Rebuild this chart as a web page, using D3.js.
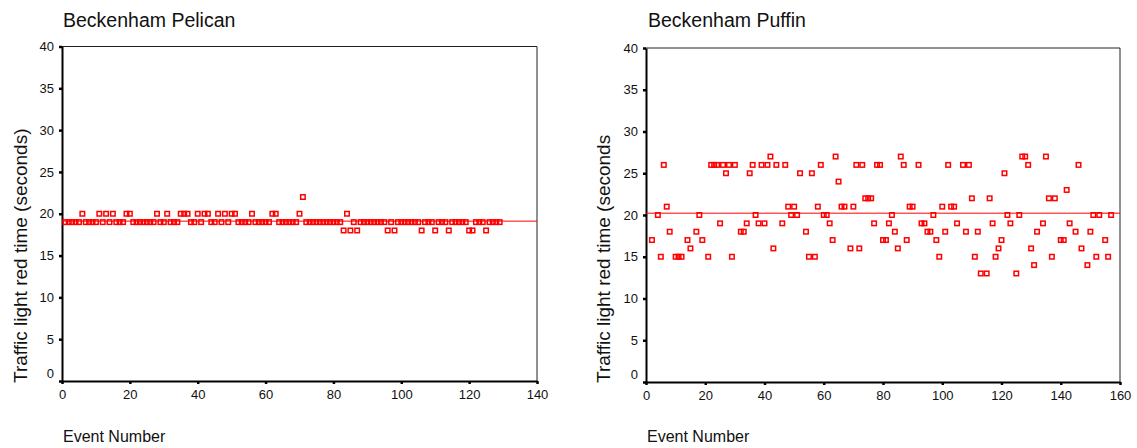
<!DOCTYPE html>
<html>
<head>
<meta charset="utf-8">
<script src="https://cdn.jsdelivr.net/npm/d3@7"></script>
<style>
  html, body { margin: 0; padding: 0; background: #fff; }
  svg { display: block; font-family: "Liberation Sans", Arial, sans-serif; }
  .tick text { fill: #111; font-size: 13px; }
</style>
</head>
<body>
<svg id="chart" width="1137" height="448"></svg>
<script>
// Red-light duration per event at two Beckenham crossings

// Pelican crossing: events numbered 1..n in order
const pelicanTimes = [
  19,19,19,19,19,20,19,19,19,19,
  20,19,20,19,20,19,19,19,20,20,
  19,19,19,19,19,19,19,20,19,19,
  20,19,19,19,20,20,20,19,19,20,
  19,20,20,19,19,20,19,20,19,20,
  20,19,19,19,19,20,19,19,19,19,
  19,20,20,19,19,19,19,19,19,20,
  22,19,19,19,19,19,19,19,19,19,
  19,19,18,20,18,19,18,19,19,19,
  19,19,19,19,19,18,19,18,19,19,
  19,19,19,19,19,18,19,19,19,18,
  19,19,19,18,19,19,19,19,19,18,
  18,19,19,19,18,19,19,19,19
];

// Puffin crossing: recorded event numbers and their red times
const puffinEvents = [
  2,4,5,6,7,8,10,11,12,14,15,17,18,19,21,22,23,24,25,26,27,28,29,30,32,33,34,35,36,37,
  38,39,40,41,42,43,44,46,47,48,49,50,51,52,
  54,55,56,57,58,59,60,61,62,63,64,65,66,67,69,70,71,72,73,74,75,76,77,78,79,80,81,82,
  83,84,85,86,87,88,89,90,92,93,94,95,96,97,98,99,100,101,102,103,104,105,
  107,108,109,110,111,112,113,115,116,117,118,119,120,121,122,123,125,126,127,128,129,
  130,131,132,134,135,136,137,138,140,141,142,143,145,146,147,149,150,151,152,153,155,156,157
];
const puffinTimes = [
  17,20,15,26,21,18,15,15,15,17,16,18,20,17,15,26,26,26,19,26,25,26,15,26,18,18,19,25,26,20,
  19,26,19,26,27,16,26,19,26,21,20,21,20,25,
  18,15,25,15,21,26,20,20,19,17,27,24,21,21,16,21,26,16,26,22,22,22,19,26,26,17,17,19,
  20,18,16,27,26,17,21,21,26,19,19,18,18,20,17,15,21,18,26,21,21,19,
  26,18,26,22,15,18,13,13,22,19,15,16,17,25,20,19,13,20,27,27,26,
  16,14,18,19,27,22,15,22,17,17,23,19,18,26,16,14,18,20,15,20,17,15,20
];

const yTicks = [0, 5, 10, 15, 20, 25, 30, 35, 40];
const pelicanXTicks = [0, 20, 40, 60, 80, 100, 120, 140];
const puffinXTicks = [0, 20, 40, 60, 80, 100, 120, 140, 160];

const panels = [
  {
    title: "Beckenham Pelican",
    yTitle: "Traffic light red time (seconds)",
    xTitle: "Event Number",
    events: pelicanTimes.map((_, i) => i + 1),
    times: pelicanTimes,
    xTicks: pelicanXTicks,
    box: { left: 62, right: 537, top: 46.5, bottom: 381 },
    titleX: 63, yTitleX: 27, xTitleX: 63
  },
  {
    title: "Beckenham Puffin",
    yTitle: "Traffic light red time (seconds",
    xTitle: "Event Number",
    events: puffinEvents,
    times: puffinTimes,
    xTicks: puffinXTicks,
    box: { left: 646, right: 1120, top: 48, bottom: 382 },
    titleX: 648, yTitleX: 610, xTitleX: 647
  }
];

const svg = d3.select("#chart");
const RED = "#ff0000";

panels.forEach(p => {
  const b = p.box;
  const x = d3.scaleLinear()
    .domain([0, d3.max(p.xTicks)])
    .range([b.left, b.right]);
  const y = d3.scaleLinear()
    .domain([0, d3.max(yTicks)])
    .range([b.bottom, b.top]);

  const g = svg.append("g");

  // frame: thin top and right edges
  g.append("path")
    .attr("d", `M${b.left},${b.top}H${b.right}V${b.bottom}`)
    .attr("fill", "none")
    .attr("stroke", "#222")
    .attr("stroke-width", 1);

  // axes
  const xAxis = g.append("g")
    .attr("transform", `translate(0,${b.bottom})`)
    .call(d3.axisBottom(x).tickValues(p.xTicks).tickSize(3).tickSizeOuter(0).tickPadding(6));
  const yAxis = g.append("g")
    .attr("transform", `translate(${b.left},0)`)
    .call(d3.axisLeft(y).tickValues(yTicks).tickSize(3).tickSizeOuter(0).tickPadding(5));

  [xAxis, yAxis].forEach(a => {
    a.select(".domain").attr("stroke", "#000").attr("stroke-width", 2);
    a.selectAll(".tick line").attr("stroke", "#000").attr("stroke-width", 2.5);
    a.selectAll(".tick text").attr("font-family", "Liberation Sans, Arial, sans-serif");
  });
  // lift the zero label off the x axis
  yAxis.selectAll(".tick").filter(d => d === 0).select("text").attr("dy", "-0.28em");

  // mean reference line
  const meanTime = d3.mean(p.times);
  g.append("line")
    .attr("x1", b.left).attr("x2", b.right)
    .attr("y1", y(meanTime)).attr("y2", y(meanTime))
    .attr("stroke", RED)
    .attr("stroke-width", 1);

  // event markers: hollow squares
  const pts = p.events.map((e, i) => ({ e, t: p.times[i] }));
  const s = 4.5;
  g.append("g").selectAll("rect")
    .data(pts)
    .join("rect")
    .attr("x", d => x(d.e) - s / 2)
    .attr("y", d => y(d.t) - s / 2)
    .attr("width", s)
    .attr("height", s)
    .attr("fill", "none")
    .attr("stroke", RED)
    .attr("stroke-width", 1.5);

  // titles
  g.append("text")
    .attr("x", p.titleX).attr("y", 27)
    .attr("font-size", 19.5)
    .attr("fill", "#111")
    .text(p.title);

  g.append("text")
    .attr("transform", `translate(${p.yTitleX},383) rotate(-90)`)
    .attr("text-anchor", "start")
    .attr("font-size", 19)
    .attr("fill", "#111")
    .text(p.yTitle);

  g.append("text")
    .attr("x", p.xTitleX).attr("y", 442)
    .attr("font-size", 16)
    .attr("fill", "#111")
    .text(p.xTitle);
});
</script>
</body>
</html>
